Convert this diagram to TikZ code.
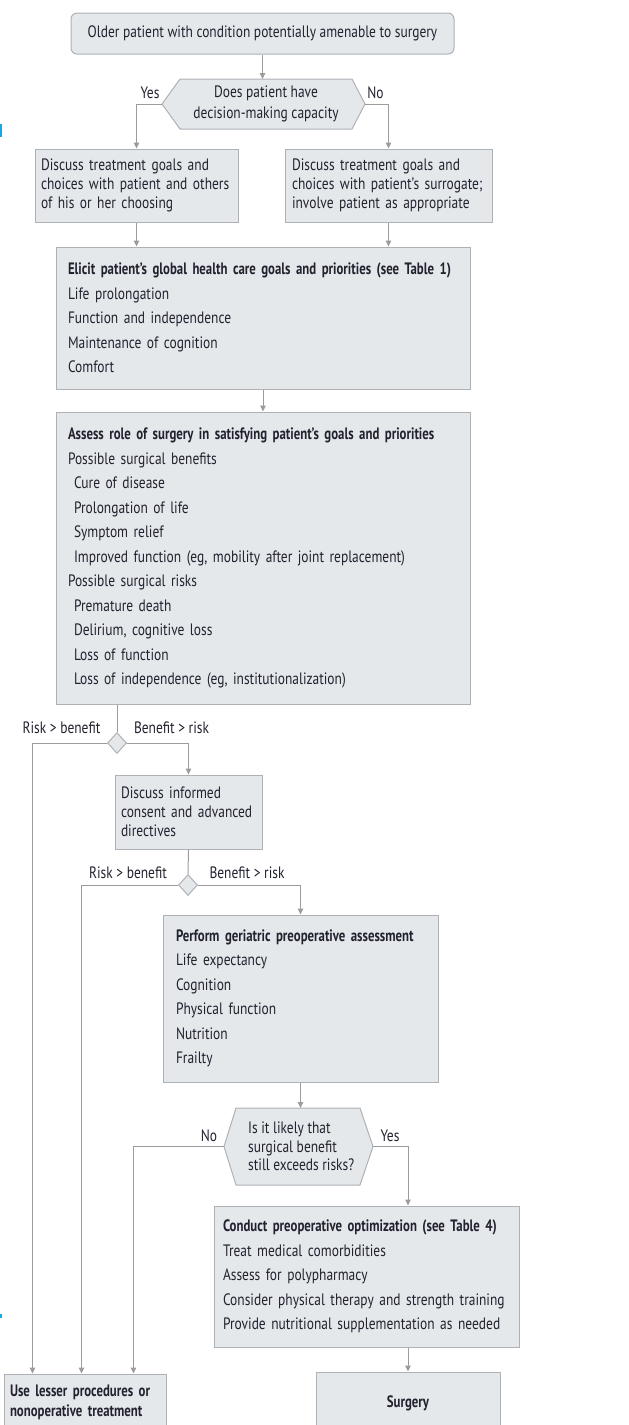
\documentclass[tikz,border=0pt]{standalone}
\usepackage{fontspec}
\setmainfont{PT Sans}[FakeStretch=0.815, BoldFeatures={FakeStretch=0.775}]
\usetikzlibrary{arrows.meta, shapes.geometric, calc}

\definecolor{boxfill}{HTML}{E4E8EB}
\definecolor{boxline}{HTML}{AEB2B6}
\definecolor{flowline}{HTML}{9C9C9C}
\definecolor{txt}{HTML}{22222F}
\definecolor{margin}{HTML}{1AA7DD}

\newcommand{\flowfont}{\fontsize{16.5}{19}\selectfont}
\newcommand{\flowlistfont}{\fontsize{16.5}{24.5}\selectfont}

\begin{document}
\begin{tikzpicture}[x=1pt, y=-1pt,
    stepbox/.style={draw=boxline, fill=boxfill, line width=1pt, align=left, inner ysep=0pt, text=txt, font=\flowfont},
    listbox/.style={stepbox, font=\flowlistfont},
    hexline/.style={draw=boxline, fill=boxfill, line width=1pt},
    captext/.style={text=txt, font=\flowfont, inner sep=0pt},
    gate/.style={diamond, draw=boxline, fill=boxfill, line width=1pt, minimum width=19pt, minimum height=21pt, inner sep=0pt},
    lbl/.style={text=txt, font=\flowfont, inner sep=0pt, anchor=base},
    flow/.style={draw=flowline, line width=1pt, -{Triangle[length=6pt, width=5.5pt]}},
    link/.style={draw=flowline, line width=1pt}]
    \useasboundingbox (0,0) rectangle (629,1425);
    \clip (0,0) rectangle (629,1425);
    \fill[margin] (0,124) rectangle (2,137);
    \fill[margin] (0,1314) rectangle (2,1318);

    \node[stepbox, rounded corners=6pt, align=center, minimum width=383pt, minimum height=41pt] (top) at (262.5,33.5) {Older patient with condition potentially amenable to surgery};

    \coordinate (capc) at (266,104);
    \coordinate (capT) at ($(capc) + (0,-25)$);
    \draw[hexline] ($(capc) + (-104,0)$) coordinate (capL) -- ($(capc) + (-86,-25)$) -- ($(capc) + (86,-25)$) -- ($(capc) + (99,0)$) coordinate (capR) -- ($(capc) + (86,25)$) -- ($(capc) + (-86,25)$) -- cycle;
    \node[captext, align=center, font=\fontsize{16.5}{21}\selectfont] (cap) at (capc) {Does patient have\\decision-making capacity};

    \node[stepbox, inner xsep=6pt, text width=191pt, minimum height=73pt] (leftA) at (136.5,185.5) {Discuss treatment goals and\\choices with patient and others\\of his or her choosing};
    \node[stepbox, inner xsep=7pt, text width=193pt, minimum height=73pt] (rightA) at (388.5,185.5) {Discuss treatment goals and\\choices with patient’s surrogate;\\involve patient as appropriate};

    \node[listbox, inner xsep=12pt, text width=390pt, minimum height=142pt] (goals) at (263,318) {\textbf{Elicit patient’s global health care goals and priorities (see Table 1)}\\Life prolongation\\Function and independence\\Maintenance of cognition\\Comfort};

    \node[listbox, inner xsep=12pt, text width=390pt, minimum height=292pt] (role) at (263,558) {\textbf{Assess role of surgery in satisfying patient’s goals and priorities}\\Possible surgical benefits\\\hspace*{6pt}Cure of disease\\\hspace*{6pt}Prolongation of life\\\hspace*{6pt}Symptom relief\\\hspace*{6pt}Improved function (eg, mobility after joint replacement)\\Possible surgical risks\\\hspace*{6pt}Premature death\\\hspace*{6pt}Delirium, cognitive loss\\\hspace*{6pt}Loss of function\\\hspace*{6pt}Loss of independence (eg, institutionalization)};

    \node[gate] (d1) at (117,743) {};
    \node[stepbox, inner xsep=6pt, text width=135pt, minimum height=74pt] (consent) at (188.5,812) {Discuss informed\\consent and advanced\\directives};
    \node[gate] (d2) at (188,885) {};

    \node[listbox, inner xsep=13pt, text width=249pt, minimum height=167pt] (assess) at (300.5,998.5) {\textbf{Perform geriatric preoperative assessment}\\Life expectancy\\Cognition\\Physical function\\Nutrition\\Frailty};

    \coordinate (cap2c) at (298,1146.5);
    \coordinate (cap2T) at ($(cap2c) + (0,-38.5)$);
    \draw[hexline] ($(cap2c) + (-74,0)$) coordinate (cap2L) -- ($(cap2c) + (-62,-38.5)$) -- ($(cap2c) + (62,-38.5)$) -- ($(cap2c) + (75,0)$) coordinate (cap2R) -- ($(cap2c) + (62,38.5)$) -- ($(cap2c) + (-62,38.5)$) -- cycle;
    \node[captext, align=left, anchor=west, font=\fontsize{16.5}{18.5}\selectfont] (cap2) at (248,1146.5) {Is it likely that\\surgical benefit\\still exceeds risks?};

    \node[listbox, inner xsep=9pt, text width=287pt, minimum height=141pt] (optim) at (366.5,1276.5) {\textbf{Conduct preoperative optimization (see Table 4)}\\Treat medical comorbidities\\Assess for polypharmacy\\Consider physical therapy and strength training\\Provide nutritional supplementation as needed};

    \node[stepbox, inner xsep=6pt, text width=150pt, minimum height=56pt, font=\fontsize{16.5}{20}\selectfont\bfseries] (lesser) at (85,1402) {Use lesser procedures or\\nonoperative treatment};
    \node[stepbox, align=center, minimum width=184pt, minimum height=62pt, font=\flowfont\bfseries] (surgery) at (408,1403) {Surgery};

    \node[lbl] (yes1) at (150,98) {Yes};
    \node[lbl] (no1) at (375.5,98) {No};
    \node[lbl] (rb1) at (61.5,733) {Risk > benefit};
    \node[lbl] (br1) at (171.5,733) {Benefit > risk};
    \node[lbl] (rb2) at (128,878) {Risk > benefit};
    \node[lbl] (br2) at (247,878) {Benefit > risk};
    \node[lbl] (no2) at (209,1141) {No};
    \node[lbl] (yes2) at (390,1141) {Yes};

    \draw[flow] (top.south) -- (top.south |- capT);
    \draw[flow] (capL) -| (leftA.north);
    \draw[flow] (capR) -| (rightA.north);
    \draw[flow] (leftA.south) -- (leftA.south |- goals.north);
    \draw[flow] (rightA.south) -- (rightA.south |- goals.north);
    \draw[flow] (goals.south) -- (role.north);
    \draw[link] (d1.north |- role.south) -- (d1.north);
    \draw[flow] (d1.west) -| ([xshift=29pt]lesser.north west);
    \draw[flow] (d1.east) -| (consent.north);
    \draw[link] (consent.south) -- (d2.north);
    \draw[flow] (d2.west) -| ([xshift=78pt]lesser.north west);
    \draw[flow] (d2.east) -| (assess.north);
    \draw[flow] (assess.south) -- (assess.south |- cap2T);
    \draw[flow] (cap2L) -| ([xshift=130pt]lesser.north west);
    \draw[flow] (cap2R) -| (optim.north -| surgery.north);
    \draw[flow] (optim.south -| surgery.north) -- (surgery.north);
  \end{tikzpicture}
\end{document}
